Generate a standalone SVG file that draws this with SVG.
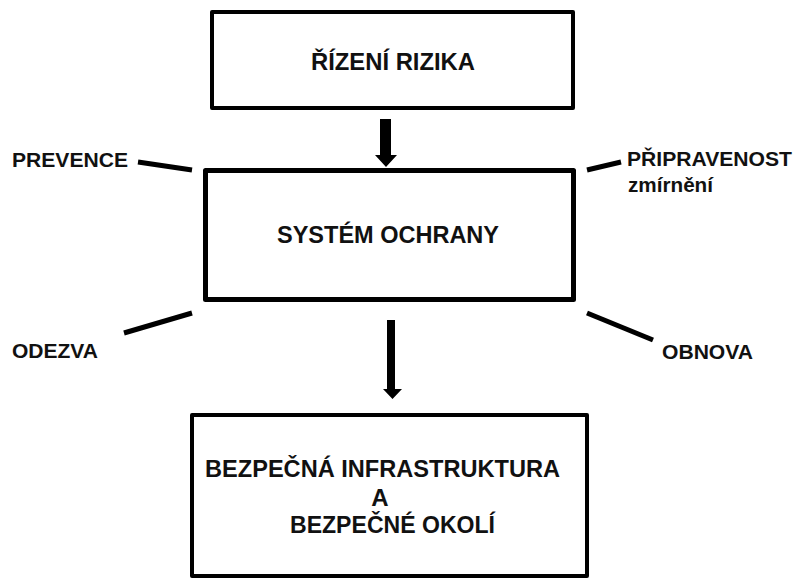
<svg xmlns="http://www.w3.org/2000/svg" width="795" height="579" viewBox="0 0 795 579">
  <style>
    .box { fill: #ffffff; stroke: #000000; stroke-linejoin: round; }
    .lbl { font-family: "Liberation Sans", Arial, sans-serif; font-weight: bold; fill: #111111; }
    .big { font-size: 24px; }
    .side { font-size: 21px; }
    .tick { stroke: #000000; stroke-width: 5; stroke-linecap: butt; fill: none; }
    .arrow { fill: #000000; }
  </style>
  <rect width="795" height="579" fill="#ffffff"/>

  <g id="rizeni-rizika">
    <rect class="box" x="212" y="12" width="361" height="96" stroke-width="4"/>
    <text class="lbl big" x="311" y="70" textLength="164" lengthAdjust="spacingAndGlyphs">ŘÍZENÍ RIZIKA</text>
  </g>

  <g id="system-ochrany">
    <rect class="box" x="205.5" y="170.5" width="368" height="129" stroke-width="5"/>
    <text class="lbl big" x="277" y="243" textLength="222" lengthAdjust="spacingAndGlyphs">SYSTÉM OCHRANY</text>
  </g>

  <g id="bezpecna-infrastruktura">
    <rect class="box" x="192" y="415" width="395" height="161" stroke-width="4"/>
    <text class="lbl big" x="205" y="477" textLength="355" lengthAdjust="spacingAndGlyphs">BEZPEČNÁ INFRASTRUKTURA</text>
    <text class="lbl big" x="380" y="506" text-anchor="middle">A</text>
    <text class="lbl big" x="290" y="533" textLength="205" lengthAdjust="spacingAndGlyphs">BEZPEČNÉ OKOLÍ</text>
  </g>

  <g id="prevence">
    <text class="lbl side" x="12" y="167" textLength="116" lengthAdjust="spacingAndGlyphs">PREVENCE</text>
  </g>

  <g id="pripravenost">
    <text class="lbl side" x="627" y="166" textLength="165" lengthAdjust="spacingAndGlyphs">PŘIPRAVENOST</text>
    <text class="lbl side" x="628" y="192" textLength="85" lengthAdjust="spacingAndGlyphs" font-size="20">zmírnění</text>
  </g>

  <g id="odezva">
    <text class="lbl side" x="12" y="358" textLength="86" lengthAdjust="spacingAndGlyphs">ODEZVA</text>
  </g>

  <g id="obnova">
    <text class="lbl side" x="662" y="359" textLength="91" lengthAdjust="spacingAndGlyphs">OBNOVA</text>
  </g>

  <g id="connectors">
    <!-- block arrows between the main boxes -->
    <polygon class="arrow" points="380,119 391,119 391,155 397,155 386,167 375,155 380,155"/>
    <polygon class="arrow" points="387,320 395,320 395,389 402,389 392.5,399 383,389 387,389"/>
    <!-- short ticks linking the side labels to the protection system -->
    <line class="tick" x1="138" y1="162" x2="192" y2="170"/>
    <line class="tick" x1="587" y1="170" x2="621" y2="162"/>
    <line class="tick" x1="124" y1="333" x2="192" y2="313"/>
    <line class="tick" x1="587" y1="313" x2="653" y2="340"/>
  </g>
</svg>
